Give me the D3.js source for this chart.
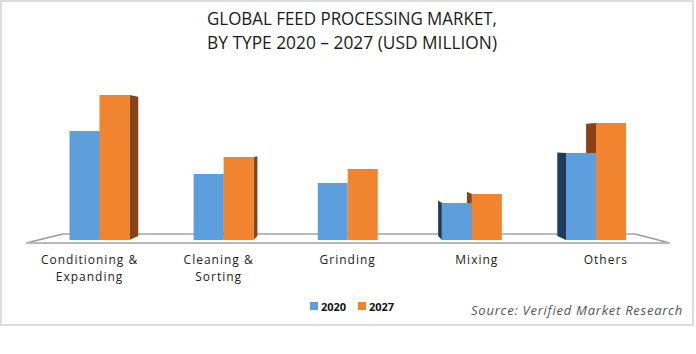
<!DOCTYPE html>
<html><head><meta charset="utf-8">
<script src="https://cdn.jsdelivr.net/npm/d3@7"></script>
<style>
html,body{margin:0;padding:0;background:#fff;}
svg{display:block;}
</style></head>
<body><svg id="c" width="696" height="354"></svg>
<script>
const categories = ["Conditioning & Expanding", "Cleaning & Sorting", "Grinding", "Mixing", "Others"];
const labelLines = [["Conditioning &", "Expanding"], ["Cleaning &", "Sorting"], ["Grinding"], ["Mixing"], ["Others"]];
const seriesNames = ["2020", "2027"];
const values2020 = [109, 66, 57, 37, 87];
const values2027 = [145, 83, 71, 46, 117];
const seriesValues = [values2020, values2027];
const colors = ["#5d9fdc", "#f1852f"];
const sideColors = ["#1f3c5c", "#8a4316"];

const svg = d3.select("#c");

// frame
svg.append("rect").attr("x", 1).attr("y", 1).attr("width", 692).attr("height", 324)
  .attr("fill", "#fff").attr("stroke", "#dcdcdc").attr("stroke-width", 2);

// title
const title = ["GLOBAL FEED PROCESSING MARKET,", "BY TYPE 2020 \u2013 2027 (USD MILLION)"];
svg.selectAll("text.title").data(title).enter().append("text")
  .attr("class", "title")
  .attr("x", 352).attr("y", (d, i) => 25 + i * 24)
  .attr("text-anchor", "middle")
  .attr("font-family", "Liberation Sans Narrow, Open Sans, sans-serif")
  .attr("font-size", 19).attr("fill", "#1a1a1a")
  .attr("textLength", 290).attr("lengthAdjust", "spacingAndGlyphs")
  .text(d => d);

const base = 240;
const y = d3.scaleLinear().domain([0, 150]).range([base, base - 150]);
const x = d3.scalePoint().domain(categories).range([99.5, 596]);
const xs = d3.scaleBand().domain(seriesNames).range([-30, 30]);
const vx = 348, vy = 140, k = 0.04;

// floor
const fl = [[26, 243], [63, 234], [635, 234], [670, 243]];
svg.append("line").attr("x1", fl[1][0]).attr("y1", fl[1][1]).attr("x2", fl[2][0]).attr("y2", fl[2][1])
  .attr("stroke", "#a3a3a3").attr("stroke-width", 1.3);
svg.append("path").attr("d", d3.line()([fl[0], fl[1]])).attr("stroke", "#9a9a9a").attr("fill", "none").attr("stroke-width", 1.3);
svg.append("path").attr("d", d3.line()([fl[2], fl[3]])).attr("stroke", "#9a9a9a").attr("fill", "none").attr("stroke-width", 1.3);
svg.append("line").attr("x1", fl[0][0]).attr("y1", fl[0][1]).attr("x2", fl[3][0]).attr("y2", fl[3][1])
  .attr("stroke", "#b8b8b8").attr("stroke-width", 2);

const bars = [];
categories.forEach((c, ci) => {
  seriesNames.forEach((s, si) => {
    const x0 = x(c) + xs(s), x1 = x0 + xs.bandwidth();
    bars.push({x0, x1, top: y(seriesValues[si][ci]), si});
  });
});

// side faces
const sides = svg.append("g");
bars.forEach(b => {
  let ex = null;
  if (b.x1 < vx - 5) ex = b.x1;
  else if (b.x0 > vx + 5) ex = b.x0;
  if (ex === null) return;
  const bx = ex + (vx - ex) * k;
  const pts = [[ex, b.top], [bx, b.top + (vy - b.top) * k], [bx, base + (vy - base) * k], [ex, base]];
  sides.append("path").attr("d", d3.line()(pts) + "Z").attr("fill", sideColors[b.si]);
});
// front faces
svg.append("g").selectAll("rect").data(bars).enter().append("rect")
  .attr("x", d => d.x0).attr("y", d => d.top)
  .attr("width", d => d.x1 - d.x0).attr("height", d => base - d.top)
  .attr("fill", d => colors[d.si]);

// category labels
const lab = svg.append("g").attr("font-family", "Open Sans, sans-serif").attr("font-size", 12)
  .attr("fill", "#222").attr("letter-spacing", 1).attr("text-anchor", "middle");
categories.forEach((c, ci) => {
  const lx = vx + (x(c) - vx) * 1.04;
  labelLines[ci].forEach((t, li) => {
    lab.append("text").attr("x", lx).attr("y", 264 + li * 17).text(t);
  });
});

// legend
const leg = svg.append("g");
const legX = [310, 358];
seriesNames.forEach((s, i) => {
  leg.append("rect").attr("x", legX[i]).attr("y", 302).attr("width", 8).attr("height", 8).attr("fill", colors[i]);
  leg.append("text").attr("x", legX[i] + 11).attr("y", 310.5)
    .attr("font-family", "Open Sans, sans-serif").attr("font-weight", "bold").attr("font-size", 11)
    .attr("fill", "#111").text(s);
});

// source
svg.append("text").attr("x", 683).attr("y", 315).attr("text-anchor", "end")
  .attr("font-family", "Open Sans, sans-serif").attr("font-style", "italic").attr("font-size", 13)
  .attr("letter-spacing", 0.75).attr("fill", "#555").text("Source: Verified Market Research");
</script>
</body></html>
